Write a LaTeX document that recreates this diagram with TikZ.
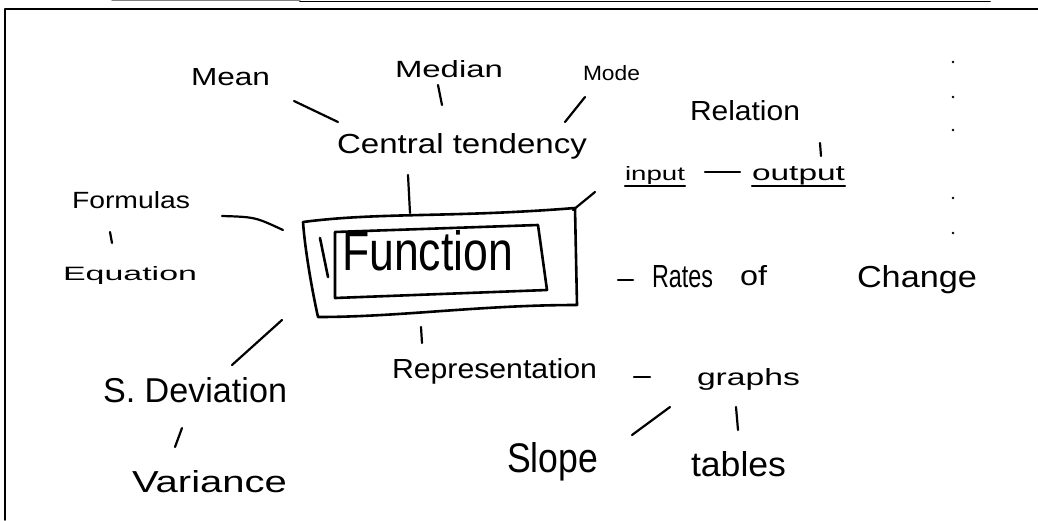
\documentclass[tikz,border=0pt]{standalone}
\usepackage{fontspec}
\setmainfont{Liberation Sans}
\usepackage{graphicx}
\newcommand{\hw}[3]{\resizebox{#1pt}{#2pt}{#3}}
\begin{document}
\begin{tikzpicture}[x=1pt,y=-1pt,line cap=round,line join=round]
\tikzset{
  txt/.style={inner sep=0pt,outer sep=0pt,anchor=base west},
  conn/.style={line width=2.2pt},
  boxline/.style={line width=2.6pt},
  frameline/.style={line width=1.8pt},
  dotmark/.style={fill=black}
}
\fill[white] (0,0) rectangle (1038,520);
\useasboundingbox (0,0) rectangle (1038,520);
% frame
\coordinate (tl0) at (112,0.8);
\coordinate (tl1) at (300,0.8);
\coordinate (tl2) at (300,1.6);
\coordinate (tl3) at (990,1.6);
\draw[gray,line width=1.2pt] (tl0) -- (tl1);
\draw[line width=1.6pt] (tl2) -- (tl3);
\coordinate (f1) at (1038,9);
\coordinate (f2) at (5,9);
\coordinate (f3) at (5,520);
\draw[frameline] (f1) -- (f2) -- (f3);
% texts
\node[txt] (mean) at (191,85) {\hw{79}{17}{Mean}};
\node[txt] (median) at (395,77) {\hw{108}{17}{Median}};
\node[txt] (mode) at (583,80) {\hw{57}{15}{Mode}};
\node[txt] (ct) at (337,153) {\hw{250}{20}{Central tendency}};
\node[txt] (form) at (72,208) {\hw{118}{17}{Formulas}};
\node[txt] (eq) at (63,280) {\hw{134}{14}{Equation}};
\node[txt] (fun) at (342,270) {\hw{171}{40}{Function}};
\node[txt] (sdev) at (103,402) {\hw{184}{25}{S. Deviation}};
\node[txt] (var) at (132,492) {\hw{155}{22}{Variance}};
\node[txt] (rep) at (392,378) {\hw{205}{20}{Representation}};
\node[txt] (graphs) at (697,385) {\hw{103}{17}{graphs}};
\node[txt] (slope) at (507,472) {\hw{91}{30}{Slope}};
\node[txt] (tables) at (691,476) {\hw{95}{25}{tables}};
\node[txt] (rates) at (652,287) {\hw{61}{22}{Rates}};
\node[txt] (of) at (740,285) {\hw{27}{20}{of}};
\node[txt] (change) at (857,287) {\hw{120}{22}{Change}};
\node[txt] (rel) at (690,120) {\hw{110}{20}{Relation}};
\node[txt] (input) at (625,180) {\hw{60}{14}{input}};
\node[txt] (output) at (752,180) {\hw{93}{14}{output}};
% underlines
\draw[conn] ([yshift=-6pt]input.base west) -- ([yshift=-6pt]input.base east);
\draw[conn] ([yshift=-6pt]output.base west) -- ([yshift=-6pt]output.base east);
% connectors
\coordinate (a1) at (294,101); \coordinate (a2) at (338,122);
\draw[conn] (a1) -- (a2);
\coordinate (b1) at (438,85); \coordinate (b2) at (442,105);
\draw[conn] (b1) -- (b2);
\coordinate (c1) at (585,97); \coordinate (c2) at (565,122);
\draw[conn] (c1) -- (c2);
\coordinate (d1) at (408,175); \coordinate (d2) at (410,213);
\draw[conn] (d1) -- (d2);
\coordinate (e1) at (595,192); \coordinate (e2) at (573,210);
\draw[conn] (e1) -- (e2);
\coordinate (g1) at (222,216); \coordinate (g2) at (283,230);
\draw[conn] (g1) .. controls (255,217) .. (g2);
\coordinate (h1) at (110,232); \coordinate (h2) at (112,243);
\draw[conn] (h1) -- (h2);
\coordinate (i1) at (282,320); \coordinate (i2) at (232,365);
\draw[conn] (i1) -- (i2);
\coordinate (j1) at (182,428); \coordinate (j2) at (175,447);
\draw[conn] (j1) -- (j2);
\coordinate (k1) at (421,327); \coordinate (k2) at (422,343);
\draw[conn] (k1) -- (k2);
\coordinate (l1) at (634,377); \coordinate (l2) at (650,377);
\draw[conn] (l1) -- (l2);
\coordinate (n1) at (736,407); \coordinate (n2) at (738,430);
\draw[conn] (n1) -- (n2);
\coordinate (p1) at (670,407); \coordinate (p2) at (632,435);
\draw[conn] (p1) -- (p2);
\coordinate (q1) at (618,280); \coordinate (q2) at (633,280);
\draw[conn] (q1) -- (q2);
\coordinate (r1) at (820,143); \coordinate (r2) at (821,156);
\draw[conn] (r1) -- (r2);
\coordinate (s1) at (705,172); \coordinate (s2) at (740,172);
\draw[conn] (s1) -- (s2);
% boxes
\coordinate (o1) at (303,222); \coordinate (o2) at (575,208);
\coordinate (o3) at (577,305); \coordinate (o4) at (318,317);
\draw[boxline] (o1) .. controls (380,212) and (450,218) .. (o2)
  -- (o3) .. controls (480,305) and (400,317) .. (o4)
  .. controls (312,290) and (305,250) .. cycle;
\coordinate (u1) at (335,232); \coordinate (u2) at (538,225);
\coordinate (u3) at (547,290); \coordinate (u4) at (335,298);
\draw[boxline] (u1) -- (u2) -- (u3) -- (u4) -- cycle;
\coordinate (v1) at (320,238); \coordinate (v2) at (328,277);
\draw[boxline] (v1) -- (v2);
% dots
\foreach \yy in {62,97,130,198,233} \fill[dotmark] (953,\yy) circle (1.3pt);
\end{tikzpicture}
\end{document}
